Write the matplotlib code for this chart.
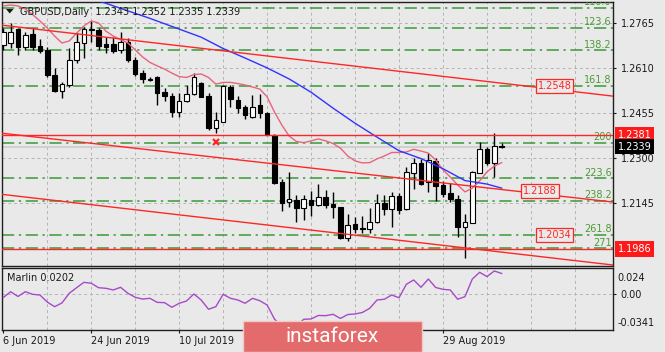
import numpy as np
import pandas as pd
import matplotlib.pyplot as plt
import matplotlib.transforms as mtransforms
from matplotlib.patches import Rectangle, Polygon

# daily GBPUSD bars from 6 Jun 2019
opens = [1.2690, 1.2696, 1.2744, 1.2684, 1.2727, 1.2687, 1.2673, 1.2587, 1.2532, 1.2552,
         1.2638, 1.2698, 1.2741, 1.2741, 1.2692, 1.2692, 1.2673, 1.2701, 1.2640, 1.2592,
         1.2568, 1.2580, 1.2528, 1.2514, 1.2460, 1.2497, 1.2520, 1.2558, 1.2514, 1.2403,
         1.2425, 1.2546, 1.2500, 1.2475, 1.2440, 1.2483, 1.2454, 1.2379, 1.2218, 1.2147,
         1.2155, 1.2126, 1.2155, 1.2138, 1.2164, 1.2140, 1.2130, 1.2023, 1.2072, 1.2057,
         1.2055, 1.2080, 1.2146, 1.2123, 1.2169, 1.2123, 1.2249, 1.2284, 1.2218, 1.2291,
         1.2207, 1.2178, 1.2157, 1.2061, 1.2077, 1.2249, 1.2330, 1.2282, 1.2343]
highs = [1.2749, 1.2767, 1.2748, 1.2736, 1.2748, 1.2710, 1.2684, 1.2610, 1.2563, 1.2679,
         1.2730, 1.2753, 1.2773, 1.2748, 1.2717, 1.2719, 1.2736, 1.2713, 1.2649, 1.2604,
         1.2581, 1.2584, 1.2540, 1.2523, 1.2523, 1.2552, 1.2592, 1.2563, 1.2523, 1.2460,
         1.2552, 1.2552, 1.2514, 1.2483, 1.2517, 1.2521, 1.2459, 1.2383, 1.2226, 1.2253,
         1.2172, 1.2172, 1.2187, 1.2210, 1.2190, 1.2184, 1.2131, 1.2106, 1.2097, 1.2100,
         1.2126, 1.2176, 1.2172, 1.2184, 1.2178, 1.2270, 1.2299, 1.2296, 1.2316, 1.2299,
         1.2222, 1.2213, 1.2172, 1.2107, 1.2256, 1.2356, 1.2337, 1.2385, 1.2352]
lows = [1.2673, 1.2679, 1.2656, 1.2673, 1.2673, 1.2661, 1.2581, 1.2529, 1.2506, 1.2546,
        1.2627, 1.2644, 1.2701, 1.2673, 1.2661, 1.2661, 1.2661, 1.2632, 1.2583, 1.2559,
        1.2566, 1.2483, 1.2498, 1.2440, 1.2443, 1.2494, 1.2517, 1.2510, 1.2397, 1.2385,
        1.2425, 1.2477, 1.2454, 1.2434, 1.2437, 1.2438, 1.2378, 1.2210, 1.2118, 1.2130,
        1.2078, 1.2086, 1.2100, 1.2134, 1.2126, 1.2092, 1.2019, 1.2015, 1.2040, 1.2042,
        1.2040, 1.2075, 1.2103, 1.2061, 1.2107, 1.2120, 1.2192, 1.2207, 1.2184, 1.2153,
        1.2164, 1.2149, 1.2028, 1.1954, 1.2075, 1.2247, 1.2276, 1.2235, 1.2335]
closes = [1.2735, 1.2736, 1.2684, 1.2725, 1.2684, 1.2670, 1.2587, 1.2532, 1.2555, 1.2638,
          1.2701, 1.2744, 1.2747, 1.2687, 1.2684, 1.2670, 1.2701, 1.2638, 1.2590, 1.2571,
          1.2574, 1.2523, 1.2515, 1.2460, 1.2498, 1.2521, 1.2581, 1.2512, 1.2403, 1.2431,
          1.2549, 1.2503, 1.2474, 1.2448, 1.2477, 1.2454, 1.2379, 1.2213, 1.2146, 1.2158,
          1.2126, 1.2157, 1.2138, 1.2164, 1.2138, 1.2130, 1.2023, 1.2069, 1.2055, 1.2054,
          1.2080, 1.2146, 1.2123, 1.2169, 1.2120, 1.2253, 1.2284, 1.2210, 1.2293, 1.2203,
          1.2176, 1.2157, 1.2063, 1.2078, 1.2253, 1.2330, 1.2282, 1.2341, 1.2339]
dates = pd.bdate_range("2019-06-06", periods=len(opens))

# fast moving average (pink), one value per bar
ma_fast = [1.2825, 1.2828, 1.2825, 1.2814, 1.2795, 1.2773, 1.2749, 1.2721, 1.2697, 1.2704,
           1.2731, 1.2756, 1.2773, 1.2766, 1.2738, 1.2721, 1.2709, 1.2697, 1.2673, 1.2649,
           1.2630, 1.2618, 1.2607, 1.2593, 1.2581, 1.2578, 1.2588, 1.2590, 1.2578, 1.2555,
           1.2561, 1.2561, 1.2557, 1.2552, 1.2545, 1.2538, 1.2511, 1.2459, 1.2414, 1.2376,
           1.2357, 1.2353, 1.2359, 1.2366, 1.2359, 1.2350, 1.2334, 1.2307, 1.2290, 1.2283,
           1.2284, 1.2297, 1.2307, 1.2319, 1.2319, 1.2321, 1.2330, 1.2324, 1.2317, 1.2293,
           1.2259, 1.2234, 1.2207, 1.2183, 1.2196, 1.2221, 1.2252, 1.2272, 1.2284]
# slow moving average (blue), read at these bars
ma_slow_idx = [13, 14, 17, 20, 24, 27, 30, 33, 36, 39, 42, 45, 48, 51, 54, 57, 60, 63, 66, 68]
ma_slow = [1.2842, 1.2834, 1.2808, 1.2782, 1.2745, 1.2717, 1.2678, 1.2645, 1.2611, 1.2573,
           1.2527, 1.2472, 1.2420, 1.2372, 1.2325, 1.2298, 1.2263, 1.2222, 1.2210, 1.2196]

marlin = [-0.0031, 0.0025, -0.0021, 0.0025, 0.0000, -0.0007, -0.0075, -0.0120, -0.0084, 0.0010,
          0.0064, 0.0116, 0.0107, 0.0064, 0.0058, 0.0042, 0.0068, 0.0010, -0.0029, -0.0046,
          -0.0039, -0.0078, -0.0081, -0.0126, -0.0087, -0.0065, 0.0003, -0.0055, -0.0145, -0.0120,
          0.0000, -0.0039, -0.0055, -0.0087, -0.0039, -0.0062, -0.0104, -0.0239, -0.0317, -0.0341,
          -0.0307, -0.0242, -0.0239, -0.0205, -0.0207, -0.0194, -0.0234, -0.0196, -0.0191, -0.0176,
          -0.0136, -0.0055, -0.0048, -0.0007, -0.0033, 0.0097, 0.0139, 0.0068, 0.0148, 0.0066,
          0.0048, 0.0042, -0.0048, -0.0023, 0.0148, 0.0213, 0.0172, 0.0226, 0.0202]

fib_labels = ["110.0", "123.6", "138.2", "161.8", "200", "223.6", "238.2", "261.8", "271"]
fib_prices = [1.2819, 1.2749, 1.2672, 1.2550, 1.2352, 1.2230, 1.2153, 1.2034, 1.1988]

red_levels = [1.2381, 1.1986]
channel_idx = [0, 80]
channel_top = [1.2758, 1.2523]
channel_mid = [1.2385, 1.2157]
channel_low = [1.2174, 1.1940]

price_ticks = [1.2765, 1.2610, 1.2455, 1.2300, 1.2145]
grid_idx = list(range(6, 84, 6))
label_idx = [0, 12, 24, 36, 48, 60]
hidden_idx = [36, 48]  # these date labels sit under the watermark

BG = "#e9e9e9"
RED = "#ff2626"
GREEN = "#3a9a3a"
GRID = dict(color="#b4b4b4", lw=0.7, ls=(0, (3, 3)), zorder=1)

fig = plt.figure(figsize=(6.65, 3.52), dpi=100, facecolor=BG)
ax = fig.add_axes([2 / 665, 86 / 352, 611 / 665, 264 / 352], facecolor=BG)
ax2 = fig.add_axes([2 / 665, 22 / 352, 611 / 665, 61.7 / 352], facecolor=BG)

x = np.arange(len(opens))
o = np.array(opens)
h = np.array(highs)
l = np.array(lows)
c = np.array(closes)

# grid
for gx in grid_idx:
    ax.axvline(gx, **GRID)
    ax2.axvline(gx, **GRID)
for p in price_ticks:
    ax.axhline(p, **GRID)
ax2.axhline(0, **GRID)

# fibo levels
for lab, p in zip(fib_labels, fib_prices):
    ax.axhline(p, color=GREEN, lw=1.1, ls=(0, (8, 3, 1.5, 3)), zorder=2)
    ax.text(83.0, p + 0.00025, lab, color="#4d9b35", fontsize=7, ha="right", va="bottom",
            zorder=3, clip_on=True)

# bid line
ax.axhline(closes[-1], color="#cbcbcb", lw=1.2, zorder=2)

# candles
ax.vlines(x, l, h, color="black", lw=1, zorder=4)
up = c >= o
body = np.maximum(np.abs(c - o), 0.00004)
ax.bar(x, body, bottom=np.minimum(o, c), width=0.62,
       color=np.where(up, "white", "black"), edgecolor="black", lw=0.8, zorder=5)

# moving averages
ax.plot(x, ma_fast, color="#e8647c", lw=1, zorder=6)
ax.plot(ma_slow_idx, ma_slow, color="#3333ff", lw=1, zorder=6)

# horizontal levels and channel
for p in red_levels:
    ax.axhline(p, color=RED, lw=1, zorder=7)
xs = np.array([-2, 86])
for line in (channel_top, channel_mid, channel_low):
    slope = (line[1] - line[0]) / (channel_idx[1] - channel_idx[0])
    ax.plot(xs, line[0] + slope * (xs - channel_idx[0]), color=RED, lw=1, zorder=7)

ax.plot(29, 1.2356, marker="x", color=RED, ms=4, mew=1.6, zorder=8)

# value tags on the lines
for xi, p, txt in [(72.9, 1.2549, "1.2548"), (70.9, 1.2187, "1.2188"), (72.9, 1.2033, "1.2034")]:
    ax.text(xi, p, txt, color=RED, fontsize=7, ha="left", va="center", zorder=9,
            bbox=dict(boxstyle="square,pad=0.2", fc=BG, ec=RED, lw=0.9))

ax.set_xlim(-0.18, 83.2)
ax.set_ylim(1.19272, 1.28385)
ax2.set_xlim(-0.18, 83.2)
ax2.set_ylim(-0.0346, 0.0252)

# right price scale
ax.yaxis.tick_right()
ax.set_yticks(price_ticks)
ax.set_yticklabels([f"{p:.4f}" for p in price_ticks])
ax.tick_params(axis="y", labelsize=7, length=2.5, pad=3, colors="#1a1a1a")
ax.set_xticks([])

tag = mtransforms.blended_transform_factory(ax.transAxes, ax.transData)
for p, fc in [(1.2381, "#ff1a1a"), (closes[-1], "black"), (1.1986, "#ff1a1a")]:
    ax.text(1.0075, p, f"{p:.4f}", transform=tag, color="white", fontsize=7,
            ha="left", va="center", clip_on=False, zorder=10,
            bbox=dict(boxstyle="square,pad=0.28", fc=fc, ec="none"))

# Marlin panel
ax2.plot(x, marlin, color="#a64ac9", lw=1, zorder=5)
ax2.yaxis.tick_right()
ax2.set_yticks([0.0])
ax2.set_yticklabels(["0.00"])
ax2.tick_params(axis="y", labelsize=7, length=2.5, pad=3, colors="#1a1a1a")
ax2.text(1.0075, 0.92, "0.024", transform=ax2.transAxes, fontsize=7, color="#1a1a1a",
         ha="left", va="top")
ax2.text(1.0075, 0.04, "-0.0341", transform=ax2.transAxes, fontsize=7, color="#1a1a1a",
         ha="left", va="bottom")
ax2.text(0.008, 0.84, "Marlin 0.0202", transform=ax2.transAxes, fontsize=7,
         color="#1a1a1a", va="center")

ax2.set_xticks(label_idx)
ax2.set_xticklabels(["" if i in hidden_idx else f"{dates[i].day} {dates[i]:%b %Y}"
                     for i in label_idx], ha="left")
ax2.tick_params(axis="x", labelsize=7, length=2.5, pad=2, colors="#1a1a1a")

for a in (ax, ax2):
    for s in a.spines.values():
        s.set_color("#202020")
        s.set_linewidth(1)

# chart caption
fig.text(20 / 665, 1 - 12 / 352, "GBPUSD,Daily  1.2343 1.2352 1.2335 1.2339",
         fontsize=7, color="#1a1a1a", va="center")
fig.add_artist(Polygon([(6 / 665, 1 - 9 / 352), (13.5 / 665, 1 - 9 / 352), (9.75 / 665, 1 - 13.5 / 352)],
                       closed=True, transform=fig.transFigure, fc="#1a1a1a", ec="none"))

# watermark
fig.add_artist(Rectangle((243 / 665, 0), 179 / 665, 31 / 352, transform=fig.transFigure,
                         fc="#e36b6b", ec="#f2c8c8", lw=1, zorder=20))
fig.text(332 / 665, 15 / 352, "instaforex", color="white", fontsize=15,
         family=["Roboto", "DejaVu Sans"], ha="center", va="center", zorder=21)

fig.savefig("out.png", dpi=100, facecolor=BG)
